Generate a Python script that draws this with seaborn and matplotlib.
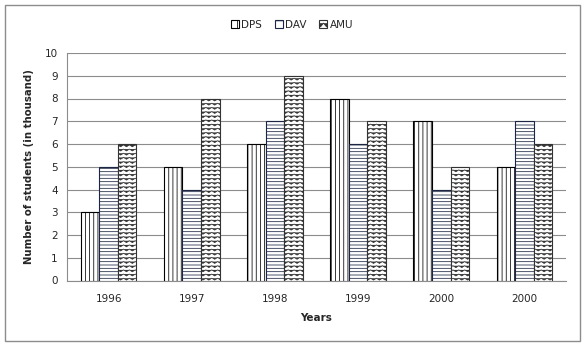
import numpy as np
import pandas as pd
import matplotlib
matplotlib.use("Agg")
import matplotlib.pyplot as plt
import seaborn as sns
from matplotlib.patches import Patch, Rectangle
from matplotlib import hatch as mhatch
import warnings
warnings.filterwarnings("ignore")

# ---- data ----
years = ["1996", "1997", "1998", "1999", "2000", "2000"]
schools = ["DPS", "DAV", "AMU"]
dps = [3, 5, 6, 8, 7, 5]
dav = [5, 4, 7, 6, 4, 7]
amu = [6, 8, 9, 7, 5, 6]


# ---- custom zigzag hatch ('~') ----
class ZigZagHatch(mhatch.HatchPatternBase):
    def __init__(self, hatch, density):
        self.num_lines = int(hatch.count('~') * density)
        self.nseg = 34
        if self.num_lines:
            self.num_vertices = (self.num_lines + 1) * (self.nseg + 1)
        else:
            self.num_vertices = 0

    def set_vertices_and_codes(self, vertices, codes):
        n = self.nseg
        step = 1.0 / self.num_lines
        amp = 0.22 * step
        xs = np.linspace(0, 1, n + 1)
        offs = np.where(np.arange(n + 1) % 2 == 0, amp, -amp)
        k = 0
        for i in range(self.num_lines + 1):
            y = i * step
            vertices[k:k + n + 1, 0] = xs
            vertices[k:k + n + 1, 1] = y + offs
            codes[k] = mhatch.Path.MOVETO
            codes[k + 1:k + n + 1] = mhatch.Path.LINETO
            k += n + 1


mhatch._hatch_types.append(ZigZagHatch)

sns.set_style("white")
plt.rcParams["font.family"] = ["DejaVu Sans"]
plt.rcParams["hatch.linewidth"] = 0.55

slots = [f"s{i}" for i in range(len(years))]
df = pd.DataFrame({
    "slot": slots * 3,
    "school": sum([[s] * len(years) for s in schools], []),
    "value": dps + dav + amu,
})

W, H = 586, 346
fig = plt.figure(figsize=(W / 100, H / 100), dpi=100)
ax = fig.add_axes([67 / W, 1 - 280.5 / H, (566 - 67) / W, (280.5 - 53) / H])

sns.barplot(data=df, x="slot", y="value", hue="school", order=slots,
            hue_order=schools, width=0.67, gap=0, legend=False, ax=ax,
            palette=["white", "white", "white"], saturation=1)

hatches = ["||||", "-----", "~~~~"]
edges = ["black", "#1c2642", "#333333"]
for cont, h, ec in zip(ax.containers, hatches, edges):
    for bar in cont:
        bar.set_hatch(h)
        bar.set_edgecolor(ec)
        bar.set_facecolor("white")
        bar.set_linewidth(0.8)
        bar.set_zorder(3)

gcol = "#8c8c8c"
ax.set_ylim(0, 10)
ax.set_xlim(-0.5, len(years) - 0.5)
ax.set_yticks(range(0, 11))
ax.yaxis.grid(True, color=gcol, linewidth=0.8)
ax.set_axisbelow(True)
ax.set_xticks(range(len(years)))
ax.set_xticklabels(years)
ax.set_xticks(np.arange(-0.5, len(years)), minor=True)
ax.tick_params(axis="x", which="major", length=0, labelsize=7.5, pad=10)
ax.tick_params(axis="x", which="minor", length=3, color=gcol, width=0.8)
ax.tick_params(axis="y", length=3.6, color=gcol, width=0.8, labelsize=7.5, pad=3)
for s in ["top", "right"]:
    ax.spines[s].set_visible(False)
for s in ["left", "bottom"]:
    ax.spines[s].set_color(gcol)
    ax.spines[s].set_linewidth(0.8)

ax.set_xlabel("Years", fontsize=7.5, fontweight="bold", labelpad=6)
ax.set_ylabel("Number of students (in thousand)", fontsize=7.3,
              fontweight="bold", labelpad=8)

handles = [Patch(facecolor="white", edgecolor=ec, hatch=h[:2], linewidth=0.8, label=s)
           for s, h, ec in zip(schools, hatches, edges)]
fig.legend(handles=handles, loc="center", bbox_to_anchor=(292 / W, 1 - 25 / H),
           ncol=3, frameon=False, fontsize=7.5, handlelength=0.8,
           handleheight=0.8, handletextpad=0.2, columnspacing=1.2)

fig.patches.append(Rectangle((5 / W, 5 / H), 575 / W, 336 / H,
                             transform=fig.transFigure, fill=False,
                             edgecolor="#8c8c8c", linewidth=1))

fig.savefig("out.png", dpi=100)
